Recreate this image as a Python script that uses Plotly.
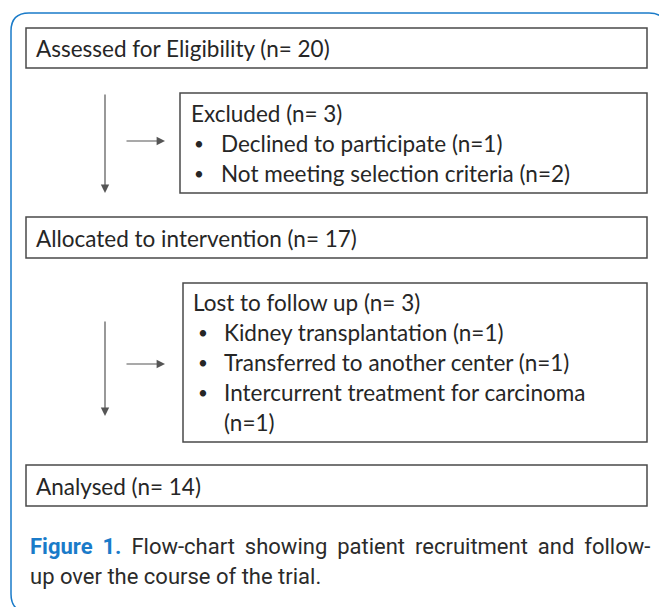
import plotly.graph_objects as go

# ---- content ----
box_titles = [
    "Assessed for Eligibility (n= 20)",
    "Excluded (n= 3)",
    "Allocated to intervention (n= 17)",
    "Lost to follow up (n= 3)",
    "Analysed (n= 14)",
]
excluded_items = ["Declined to participate (n=1)", "Not meeting selection criteria (n=2)"]
lost_items = ["Kidney transplantation (n=1)", "Transferred to another center (n=1)",
              "Intercurrent treatment for carcinoma", "(n=1)"]
caption_bold = "Figure 1."
caption_line1_words = ["Flow-chart", "showing", "patient", "recruitment", "and", "follow-"]
caption_line2 = "up over the course of the trial."

W, H = 659, 607
BOX_FONT = "Lato"
BOX_SIZE = 22.5
TXT = "#262626"
EDGE = "#4a4a4a"
BLUE = "#1a7bc9"
CAP_FONT = "Roboto"
CAP_SIZE = 22

fig = go.Figure()
fig.add_trace(go.Scatter(x=[0, W], y=[0, H], mode="markers", marker=dict(opacity=0), hoverinfo="skip", showlegend=False))

shapes = []
annots = []

# outer rounded frame
r = 18
x0, y0, x1, y1 = 11, 13, 667, 612
path = (f"M {x0+r},{y0} L {x1-r},{y0} Q {x1},{y0} {x1},{y0+r} L {x1},{y1-r} Q {x1},{y1} {x1-r},{y1} "
        f"L {x0+r},{y1} Q {x0},{y1} {x0},{y1-r} L {x0},{y0+r} Q {x0},{y0} {x0+r},{y0} Z")
shapes.append(dict(type="path", path=path, line=dict(color=BLUE, width=1.5), xref="x", yref="y"))

boxes = [(26, 28, 647, 68), (180, 93, 647, 193), (26, 217, 647, 258), (183, 283, 647, 442), (26, 465, 647, 506)]
for (bx0, by0, bx1, by1) in boxes:
    shapes.append(dict(type="rect", x0=bx0, y0=by0, x1=bx1, y1=by1, line=dict(color=EDGE, width=1.5),
                       fillcolor="white", xref="x", yref="y"))

def txt(x, y, s, size=BOX_SIZE, font=BOX_FONT, color=TXT):
    annots.append(dict(x=x, y=y, text=s, showarrow=False, xanchor="left", yanchor="middle",
                       xref="x", yref="y", font=dict(family=font, size=size, color=color)))

# single-line boxes
txt(34, 48, box_titles[0])
txt(34, 238, box_titles[2])
txt(34, 486, box_titles[4])

# excluded box
txt(189, 113, box_titles[1])
for i, s in enumerate(excluded_items):
    yy = 143 + 30 * i
    txt(192, yy, "•", size=17)
    txt(219, yy, s)

# lost box
txt(191, 302, box_titles[3])
for i, s in enumerate(lost_items):
    yy = 332 + 30 * i
    if i < 3:
        txt(196, yy, "•", size=17)
    txt(222, yy, s)

# arrows
def arrow(xs, ys, xe, ye):
    annots.append(dict(x=xe, y=ye, ax=xs, ay=ys, xref="x", yref="y", axref="x", ayref="y",
                       text="", showarrow=True, arrowhead=2, arrowsize=1.4, arrowwidth=1.2,
                       arrowcolor="#555555"))

arrow(105, 93, 105, 193)
arrow(125, 141, 165, 141)
arrow(105, 320, 105, 416)
arrow(125, 364, 165, 364)

# caption (first line roughly justified with thin spaces)
gap = " \u2009"
line1 = (f"<b><span style='color:{BLUE}'>Figure\u2009 1.</span></b>" + gap
         + gap.join(caption_line1_words))
annots.append(dict(x=28, y=546, xref="x", yref="y", xanchor="left", yanchor="middle", showarrow=False,
                   text=line1, font=dict(family=CAP_FONT, size=CAP_SIZE, color="#2b2b2b")))
annots.append(dict(x=28, y=576, xref="x", yref="y", xanchor="left", yanchor="middle", showarrow=False,
                   text=caption_line2, font=dict(family=CAP_FONT, size=CAP_SIZE, color="#2b2b2b")))

fig.update_layout(
    width=W, height=H, margin=dict(l=0, r=0, t=0, b=0),
    paper_bgcolor="white", plot_bgcolor="white",
    xaxis=dict(range=[0, W], visible=False, fixedrange=True),
    yaxis=dict(range=[H, 0], visible=False, fixedrange=True),
    shapes=shapes, annotations=annots, showlegend=False,
)
fig.write_html("out.html", config={"displayModeBar": False},
               post_script="document.body.style.margin='0';document.body.style.overflow='hidden';")
